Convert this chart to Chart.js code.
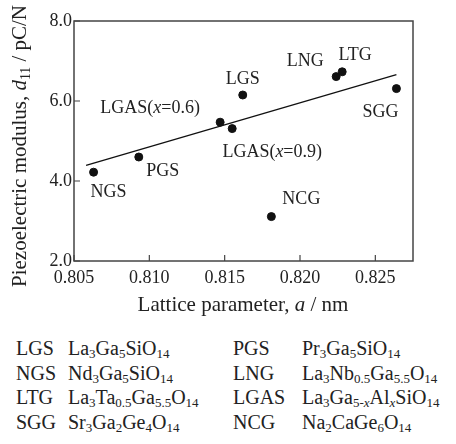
<!DOCTYPE html>
<html>
<head>
<meta charset="utf-8">
<script src="https://cdn.jsdelivr.net/npm/chart.js@4/dist/chart.umd.min.js"></script>
<style>
  body { margin: 0; background: #fff; }
  #wrap { position: relative; width: 456px; height: 444px; font-family: "Liberation Serif", serif; color: #222; }
  #chartBox { position: absolute; left: 0; top: 0; width: 456px; height: 320px; }
  #legend { position: absolute; left: 0; top: 336px; width: 456px; font-size: 20px; line-height: 24.5px; }
  .row { position: relative; height: 24.5px; white-space: nowrap; }
  .row span { position: absolute; top: 0; }
  sub { font-size: 0.65em; vertical-align: -0.25em; line-height: 0; }
</style>
</head>
<body>
<div id="wrap">
  <div id="chartBox"><canvas id="chart"></canvas></div>
  <div id="legend">
    <div class="row"><span style="left:16px">LGS</span><span style="left:68px">La<sub>3</sub>Ga<sub>5</sub>SiO<sub>14</sub></span><span style="left:233px">PGS</span><span style="left:302px">Pr<sub>3</sub>Ga<sub>5</sub>SiO<sub>14</sub></span></div>
    <div class="row"><span style="left:16px">NGS</span><span style="left:68px">Nd<sub>3</sub>Ga<sub>5</sub>SiO<sub>14</sub></span><span style="left:233px">LNG</span><span style="left:302px">La<sub>3</sub>Nb<sub>0.5</sub>Ga<sub>5.5</sub>O<sub>14</sub></span></div>
    <div class="row"><span style="left:16px">LTG</span><span style="left:68px">La<sub>3</sub>Ta<sub>0.5</sub>Ga<sub>5.5</sub>O<sub>14</sub></span><span style="left:233px">LGAS</span><span style="left:302px">La<sub>3</sub>Ga<sub>5-<i>x</i></sub>Al<sub><i>x</i></sub>SiO<sub>14</sub></span></div>
    <div class="row"><span style="left:16px">SGG</span><span style="left:68px">Sr<sub>3</sub>Ga<sub>2</sub>Ge<sub>4</sub>O<sub>14</sub></span><span style="left:233px">NCG</span><span style="left:302px">Na<sub>2</sub>CaGe<sub>6</sub>O<sub>14</sub></span></div>
  </div>
</div>
<script>
// data
const names = ["NGS", "PGS", "LGAS(x=0.6)", "LGAS(x=0.9)", "LGS", "NCG", "LNG", "LTG", "SGG"];
const latticeA = [0.8063, 0.8093, 0.8147, 0.8155, 0.8162, 0.8181, 0.8224, 0.8228, 0.8264];
const d11 = [4.22, 4.60, 5.47, 5.31, 6.15, 3.11, 6.61, 6.73, 6.31];
const fitA = [0.8058, 0.8264];
const fitD = [4.39, 6.66];
const xTickValues = [0.805, 0.810, 0.815, 0.820, 0.825];
const yTickValues = [2, 4, 6, 8];

// label offsets from each point, in px
const labelOffsets = {
  "NGS": [15, 20], "PGS": [24, 14], "LGAS(x=0.6)": [-70, -14], "LGAS(x=0.9)": [40, 24],
  "LGS": [0, -16], "NCG": [30, -17], "LNG": [-31, -15], "LTG": [13, -17], "SGG": [-16, 24]
};

const FONT = '"Liberation Serif", serif';
const INK = "#222";

function font(size, italic) {
  return (italic ? "italic " : "") + size + "px " + FONT;
}

// draw text made of parts: {t, italic, sub}
function drawParts(ctx, parts, x, y, size) {
  let widths = parts.map((p) => {
    ctx.font = font(p.sub ? size * 0.65 : size, p.italic);
    return ctx.measureText(p.t).width;
  });
  let total = widths.reduce((a, b) => a + b, 0);
  let cx = x - total / 2;
  parts.forEach((p, i) => {
    ctx.font = font(p.sub ? size * 0.65 : size, p.italic);
    ctx.fillText(p.t, cx, p.sub ? y + size * 0.2 : y);
    cx += widths[i];
  });
}

function labelParts(name) {
  let m = name.match(/^(.*\()x(=.*)$/);
  if (m) return [{ t: m[1] }, { t: "x", italic: true }, { t: m[2] }];
  return [{ t: name }];
}

const decorations = {
  id: "decorations",
  afterDatasetsDraw(chart) {
    const ctx = chart.ctx;
    const area = chart.chartArea;
    const xs = chart.scales.x;
    const ys = chart.scales.y;
    ctx.save();

    // frame
    ctx.strokeStyle = "#444";
    ctx.lineWidth = 1.5;
    ctx.strokeRect(area.left, area.top, area.right - area.left, area.bottom - area.top);

    // inward ticks
    ctx.lineWidth = 1.2;
    ctx.beginPath();
    xTickValues.forEach((v) => {
      const px = xs.getPixelForValue(v);
      ctx.moveTo(px, area.bottom);
      ctx.lineTo(px, area.bottom - 6);
    });
    yTickValues.forEach((v) => {
      const py = ys.getPixelForValue(v);
      ctx.moveTo(area.left, py);
      ctx.lineTo(area.left + 6, py);
    });
    ctx.stroke();

    // point labels
    ctx.fillStyle = INK;
    ctx.textAlign = "left";
    ctx.textBaseline = "middle";
    names.forEach((n, i) => {
      const px = xs.getPixelForValue(latticeA[i]);
      const py = ys.getPixelForValue(d11[i]);
      const off = labelOffsets[n];
      drawParts(ctx, labelParts(n), px + off[0], py + off[1], 18);
    });

    // axis titles
    ctx.textBaseline = "alphabetic";
    drawParts(ctx, [{ t: "Lattice parameter, " }, { t: "a", italic: true }, { t: " / nm" }], 243, 311, 21);

    ctx.translate(26, 146);
    ctx.rotate(-Math.PI / 2);
    drawParts(ctx, [
      { t: "Piezoelectric modulus, " }, { t: "d", italic: true }, { t: "11", sub: true }, { t: " / pC/N" }
    ], 0, 0, 21);

    ctx.restore();
  }
};

new Chart(document.getElementById("chart"), {
  type: "scatter",
  data: {
    datasets: [
      {
        label: "d11",
        data: latticeA.map((a, i) => ({ x: a, y: d11[i] })),
        backgroundColor: "#111",
        borderColor: "#111",
        pointRadius: 4,
        pointHoverRadius: 4,
      },
      {
        label: "fit",
        type: "line",
        data: fitA.map((a, i) => ({ x: a, y: fitD[i] })),
        borderColor: "#111",
        borderWidth: 1.3,
        pointRadius: 0,
        fill: false,
      },
    ],
  },
  plugins: [decorations],
  options: {
    responsive: true,
    maintainAspectRatio: false,
    animation: false,
    layout: { padding: { left: 0, top: 21, right: 43, bottom: 0 } },
    plugins: { legend: { display: false }, tooltip: { enabled: false } },
    scales: {
      x: {
        type: "linear",
        min: 0.805,
        max: 0.8275,
        grid: { display: false, drawTicks: false },
        border: { display: false },
        afterBuildTicks: (scale) => { scale.ticks = xTickValues.map((v) => ({ value: v })); },
        afterFit: (scale) => { scale.height = 59; },
        ticks: {
          padding: 6,
          color: INK,
          font: { family: FONT, size: 18 },
          maxRotation: 0,
          callback: (v) => Number(v).toFixed(3),
        },
      },
      y: {
        min: 2,
        max: 8,
        grid: { display: false, drawTicks: false },
        border: { display: false },
        afterBuildTicks: (scale) => { scale.ticks = yTickValues.map((v) => ({ value: v })); },
        afterFit: (scale) => { scale.width = 74; },
        ticks: {
          padding: 2,
          color: INK,
          font: { family: FONT, size: 18 },
          callback: (v) => Number(v).toFixed(1),
        },
      },
    },
  },
});
</script>
</body>
</html>
